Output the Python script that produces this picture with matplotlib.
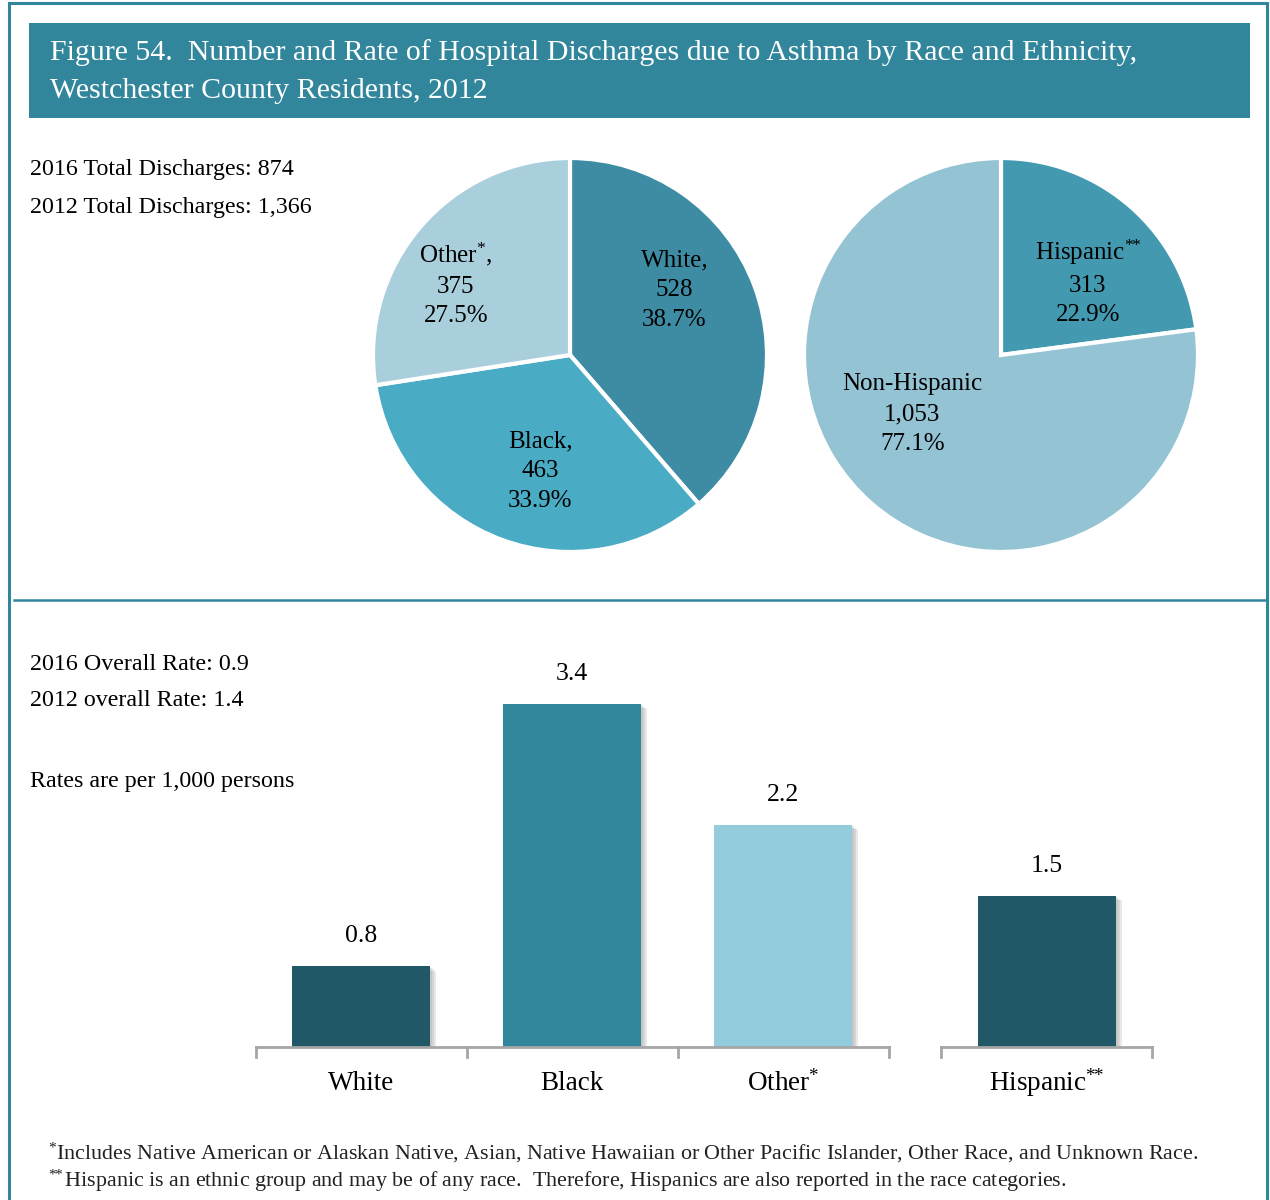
import numpy as np
import matplotlib
matplotlib.use("Agg")
import matplotlib.pyplot as plt
from matplotlib.patches import Rectangle

plt.rcParams['font.family'] = ['Liberation Serif', 'DejaVu Serif']
plt.rcParams['mathtext.fontset'] = 'custom'
plt.rcParams['mathtext.rm'] = 'Liberation Serif'
plt.rcParams['mathtext.it'] = 'Liberation Serif'
plt.rcParams['mathtext.default'] = 'regular'

# data
race_labels = ['White', 'Black', r'Other$^{*}$']
race_counts = [528, 463, 375]
race_pcts = [38.7, 33.9, 27.5]
eth_labels = [r'Hispanic$^{*\!\!*}$', 'Non-Hispanic']
eth_counts = [313, 1053]
eth_pcts = [22.9, 77.1]
bar_cats = ['White', 'Black', r'Other$^{*}$', r'Hispanic$^{*\!\!*}$']
bar_rates = [0.8, 3.4, 2.2, 1.5]
bar_pos = [0, 1, 2, 3.25]

teal = '#32869C'
race_colors = ['#3E8CA3', '#4AABC5', '#A9CEDC']
eth_colors = ['#4399B0', '#94C3D4']
bar_colors = ['#215868', '#31869B', '#93CDDD', '#215868']

W, H = 1270, 1200
fig = plt.figure(figsize=(W / 100, H / 100), dpi=100)

# background layer in pixel coords
bg = fig.add_axes([0, 0, 1, 1], zorder=0)
bg.set_xlim(0, W)
bg.set_ylim(H, 0)
bg.axis('off')
bg.plot([9, 9], [3, H], color=teal, lw=2.2)
bg.plot([9, 1267], [3, 3], color=teal, lw=2.2)
bg.plot([1267, 1267], [3, H], color=teal, lw=2.2)
bg.plot([14, 1267], [600, 600], color=teal, lw=1.8)
bg.add_patch(Rectangle((29, 23), 1221, 95, color=teal, lw=0))
bg.text(50, 53, 'Figure 54.  Number and Rate of Hospital Discharges due to Asthma by Race and Ethnicity,',
        color='white', fontsize=21.5, va='center', ha='left')
bg.text(50, 91, 'Westchester County Residents, 2012', color='white', fontsize=21.5, va='center', ha='left')

for y, s in [(170, '2016 Total Discharges: 874'), (207, '2012 Total Discharges: 1,366'),
             (665, '2016 Overall Rate: 0.9'), (701, '2012 overall Rate: 1.4'),
             (782, 'Rates are per 1,000 persons')]:
    bg.text(30, y, s, fontsize=17.3, va='center', ha='left', color='black')

bg.text(48, 1153, r'$^{*}$Includes Native American or Alaskan Native, Asian, Native Hawaiian or Other Pacific Islander, Other Race, and Unknown Race.',
        fontsize=15.8, va='center', ha='left', color='#222222')
bg.text(48, 1181, r'$^{*\!\!*}$Hispanic is an ethnic group and may be of any race.  Therefore, Hispanics are also reported in the race categories.',
        fontsize=15.8, va='center', ha='left', color='#222222')


def pie_axes(cx, cy, r):
    return fig.add_axes([(cx - r) / W, 1 - (cy + r) / H, 2 * r / W, 2 * r / H], zorder=2)


def draw_pie(ax, labels, counts, pcts, colors, offsets, comma):
    ax.pie(counts, colors=colors, startangle=90, counterclock=False,
           wedgeprops=dict(edgecolor='white', linewidth=3))
    for lab, c, p, (dx, dy) in zip(labels, counts, pcts, offsets):
        sep = ',' if comma else ''
        txt = '{}{}\n{:,}\n{}%'.format(lab, sep, c, p)
        ax.text(dx, dy, txt, ha='center', va='center', fontsize=18, linespacing=1.45)
    ax.set_xlim(-1, 1)
    ax.set_ylim(-1, 1)
    ax.set_aspect('equal')


ax1 = pie_axes(570, 355, 197)
draw_pie(ax1, race_labels, race_counts, race_pcts, race_colors,
         [(0.53, 0.33), (-0.15, -0.59), (-0.58, 0.36)], True)
ax2 = pie_axes(1001, 355, 197)
draw_pie(ax2, eth_labels, eth_counts, eth_pcts, eth_colors,
         [(0.44, 0.37), (-0.45, -0.30)], False)

# bar chart
px0, px1 = 200, 1220
py_base, py_top = 1047, 620
ax3 = fig.add_axes([px0 / W, 1 - py_base / H, (px1 - px0) / W, (py_base - py_top) / H], zorder=2)
step, unit = 211.0, 101.0
ax3.set_xlim((px0 - 361) / step, (px1 - 361) / step)
ax3.set_ylim(0, (py_base - py_top) / unit)
ax3.axis('off')

bw = 0.655
sx, sy = 4 / step, 3 / unit
for k in range(3):
    ax3.bar(np.array(bar_pos) + sx * (k + 1) / 2, np.array(bar_rates), width=bw, bottom=-sy * (k + 1) / 2,
            color='#808080', alpha=0.18, lw=0, zorder=1)
ax3.bar(bar_pos, bar_rates, width=bw, color=bar_colors, lw=0, zorder=2)
for x, v in zip(bar_pos, bar_rates):
    ax3.text(x, v + 30 / unit, '{:.1f}'.format(v), ha='center', va='center', fontsize=18.5)
for x, lab in zip(bar_pos, bar_cats):
    ax3.text(x, -36 / unit, lab, ha='center', va='center', fontsize=19.5, clip_on=False)

axis_col = '#A6A6A6'
tick = 10 / unit
ax3.plot([-0.5, 2.5], [0, 0], color=axis_col, lw=2, clip_on=False, zorder=3)
for t in [-0.5, 0.5, 1.5, 2.5]:
    ax3.plot([t, t], [0, -tick], color=axis_col, lw=2, clip_on=False, zorder=3)
ax3.plot([2.75, 3.75], [0, 0], color=axis_col, lw=2, clip_on=False, zorder=3)
for t in [2.75, 3.75]:
    ax3.plot([t, t], [0, -tick], color=axis_col, lw=2, clip_on=False, zorder=3)

fig.savefig('out.png', dpi=100)
